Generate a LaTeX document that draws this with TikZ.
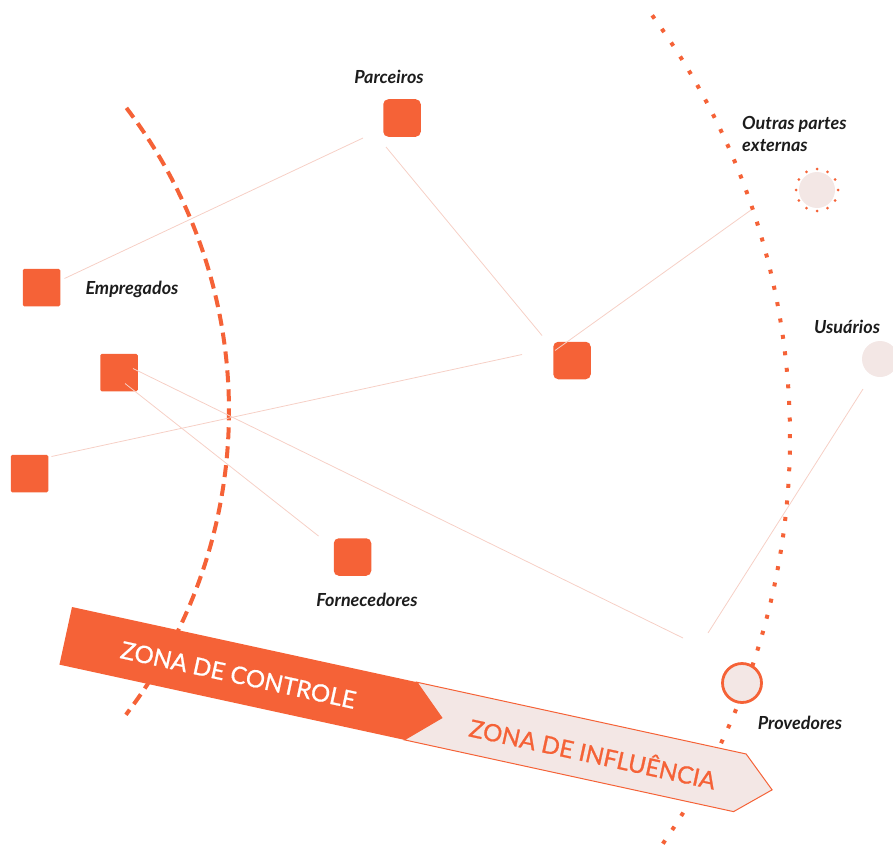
\documentclass[tikz,border=0pt]{standalone}
\usepackage{fontspec}
\setmainfont{Lato}
\newfontface\zonefont{Lato}[FakeBold=0.9]
\definecolor{org}{RGB}{245,98,55}
\definecolor{pnk}{RGB}{243,231,229}
\definecolor{lnk}{RGB}{246,208,198}
\definecolor{ink}{RGB}{28,28,28}
\begin{document}
\begin{tikzpicture}[x=1pt,y=-1pt,
  sq/.style={fill=org, minimum size=37.5pt, inner sep=0pt, draw=none},
  lbl/.style={font=\fontsize{18}{22}\selectfont\bfseries\itshape, text=ink, inner sep=0pt},
  link/.style={draw=lnk, line width=0.8pt},
  zonetext/.style={transform shape, font=\fontsize{24}{24}\zonefont, inner sep=0pt}]
\useasboundingbox (0,0) rectangle (893,848);
% zone boundaries
\draw[org, line width=4pt, dash pattern=on 12pt off 7pt]
  (-270,411) ++(-37.4:499) arc[start angle=-37.4, end angle=37.5, radius=499];
\draw[org, line width=4pt, dash pattern=on 4pt off 12.6pt]
  (76,437) ++(-36.2:714) arc[start angle=-36.2, end angle=36, radius=714];
% stakeholder nodes
\node[sq, rounded corners=5pt] (P) at (402,118) {};
\node[sq, rounded corners=1.5pt] (E) at (41.5,287.5) {};
\node[sq, rounded corners=1.5pt] (S2) at (119,372.5) {};
\node[sq, rounded corners=1.5pt] (S3) at (29.5,473.5) {};
\node[sq, rounded corners=5pt] (C) at (572,360.5) {};
\node[sq, rounded corners=5pt] (F) at (352.5,557) {};
\node[circle, fill=pnk, minimum size=36pt, inner sep=0pt] (O) at (817,190) {};
\foreach \a in {0,30,...,330} \fill[org] ([shift={(\a:21)}]O.center) circle (1.5pt);
\node[circle, fill=pnk, minimum size=36pt, inner sep=0pt] (U) at (880,359) {};
\node[circle, fill=pnk, draw=org, line width=2.8pt, minimum size=39pt, inner sep=0pt] (Pv) at (742,683) {};
% links
\coordinate (oz) at (751,210);
\coordinate (pe1) at (683,638);
\coordinate (pe2) at (708,633);
\draw[link] ([shift={(23,-9)}]E.center) -- ([shift={(-39,20)}]P.center);
\draw[link] ([shift={(-16,29)}]P.center) -- ([shift={(-30,-25)}]C.center);
\draw[link] ([shift={(-17,-10)}]C.center) -- (oz);
\draw[link] ([shift={(22,-17)}]S3.center) -- ([shift={(-50,-6)}]C.center);
\draw[link] ([shift={(14,-4)}]S2.center) -- (pe1);
\draw[link] ([shift={(6,11)}]S2.center) -- ([shift={(-34,-21)}]F.center);
\draw[link] ([shift={(-17,30)}]U.center) -- (pe2);
% labels
\node[lbl] (lP) at (389,77) {Parceiros};
\node[lbl] (lE) at (132,289) {Empregados};
\node[lbl, align=left, anchor=west] (lO) at (742,134) {Outras partes\\externas};
\node[lbl] (lU) at (847,327) {Usuários};
\node[lbl] (lF) at (367,600) {Fornecedores};
\node[lbl] (lPv) at (800,723) {Provedores};
% banner
\begin{scope}[shift={(72,607)}, rotate=-12.3]
  \draw[fill=pnk, draw=org, line width=1pt] (353,0) -- (690,0) -- (723,29.5) -- (690,59) -- (353,59) -- (385,29.5) -- cycle;
  \fill[org] (0,0) -- (353,0) -- (385,29.5) -- (353,59) -- (0,59) -- cycle;
  \node[zonetext, text=white] (zc) at (177,31) {ZONA DE CONTROLE};
  \node[zonetext, text=org] (zi) at (540,31) {ZONA DE INFLUÊNCIA};
\end{scope}
\end{tikzpicture}
\end{document}
